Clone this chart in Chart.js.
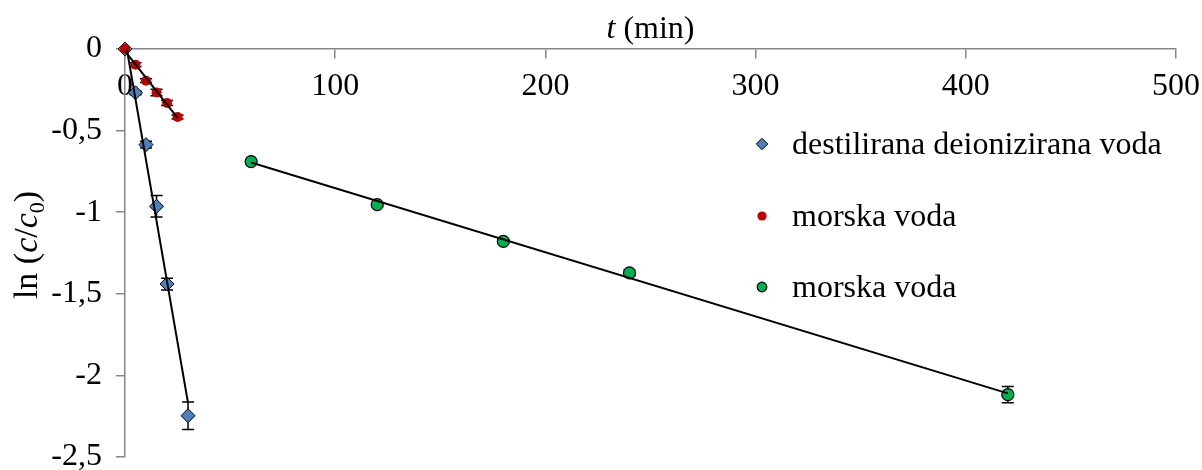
<!DOCTYPE html>
<html>
<head>
<meta charset="utf-8">
<script src="https://cdn.jsdelivr.net/npm/chart.js@4.4.1/dist/chart.umd.min.js"></script>
<style>
html,body{margin:0;padding:0;background:#fff;}
#wrap{width:1202px;height:470px;position:relative;}
</style>
</head>
<body>
<div id="wrap"><canvas id="c" width="1202" height="470"></canvas></div>
<script>
// ---- data ----
const seriesLabels = ['destilirana deionizirana voda', 'morska voda', 'morska voda'];

const tDest  = [0, 5, 10, 15, 20, 30];
const lnDest = [0, -0.268, -0.586, -0.964, -1.44, -2.247];
const errDest = [0.005, 0.012, 0.02, 0.066, 0.036, 0.084];

const tSea1  = [0, 5, 10, 15, 20, 25];
const lnSea1 = [0, -0.096, -0.194, -0.266, -0.331, -0.417];
const errSea1 = [0.005, 0.012, 0.012, 0.02, 0.015, 0.012];

const tSea2  = [60, 120, 180, 240, 420];
const lnSea2 = [-0.69, -0.954, -1.179, -1.372, -2.118];
const errSea2 = [0.012, 0.012, 0.012, 0.018, 0.05];

// trend lines (end points)
const trendDestT = [0, 30];
const trendDestY = [0.064, -2.17];
const trendSea1T = [0, 25];
const trendSea1Y = [-0.013, -0.422];
const trendSea2T = [60, 420];
const trendSea2Y = [-0.695, -2.11];

const xTickValues = [0, 100, 200, 300, 400, 500];
const xTickLabels = ['0', '100', '200', '300', '400', '500'];
const yTickValues = [0, -0.5, -1, -1.5, -2, -2.5];
const yTickLabels = ['0', '-0,5', '-1', '-1,5', '-2', '-2,5'];

// ---- styles ----
const FONT = "'Liberation Serif', 'Times New Roman', serif";
const AXIS_COLOR = '#868686';
const BLUE = '#4F81BD', RED = '#C00000', GREEN = '#00B050';

const pts = (xs, ys) => xs.map((x, i) => ({x: x, y: ys[i]}));

const datasets = [
  {label: 'trend1', data: pts(trendDestT, trendDestY), showLine: true, pointRadius: 0, borderColor: '#000', borderWidth: 2, order: 0, isTrend: true},
  {label: 'trend2', data: pts(trendSea1T, trendSea1Y), showLine: true, pointRadius: 0, borderColor: '#000', borderWidth: 2, order: 0, isTrend: true},
  {label: 'trend3', data: pts(trendSea2T, trendSea2Y), showLine: true, pointRadius: 0, borderColor: '#000', borderWidth: 2, order: 0, isTrend: true},
  {label: seriesLabels[0], data: pts(tDest, lnDest), errors: errDest, pointStyle: 'rectRot', pointRadius: 7, backgroundColor: BLUE, borderColor: '#000', borderWidth: 1, order: 2, legendIdx: 0, clip: false},
  {label: seriesLabels[1], data: pts(tSea1, lnSea1), errors: errSea1, pointStyle: 'circle', pointRadius: 5, backgroundColor: RED, borderColor: RED, borderWidth: 0, order: 1, legendIdx: 1, clip: false},
  {label: seriesLabels[2], data: pts(tSea2, lnSea2), errors: errSea2, pointStyle: 'circle', pointRadius: 6, backgroundColor: GREEN, borderColor: '#000', borderWidth: 1.2, order: 1, legendIdx: 2, clip: false}
];

function drawMarker(ctx, style, x, y, r, fill, stroke, lw) {
  ctx.save();
  ctx.beginPath();
  if (style === 'rectRot') {
    ctx.moveTo(x, y - r); ctx.lineTo(x + r, y); ctx.lineTo(x, y + r); ctx.lineTo(x - r, y); ctx.closePath();
  } else {
    ctx.arc(x, y, r, 0, Math.PI * 2);
  }
  ctx.fillStyle = fill; ctx.fill();
  if (lw > 0) { ctx.lineWidth = lw; ctx.strokeStyle = stroke; ctx.stroke(); }
  ctx.restore();
}

const extras = {
  id: 'extras',
  beforeDatasetsDraw(chart) {
    const ctx = chart.ctx, xs = chart.scales.x, ys = chart.scales.y;
    ctx.save();
    ctx.strokeStyle = '#000';
    ctx.lineWidth = 1.5;
    chart.data.datasets.forEach(ds => {
      if (!ds.errors) return;
      ds.data.forEach((p, i) => {
        const e = ds.errors[i];
        const px = xs.getPixelForValue(p.x);
        const y1 = ys.getPixelForValue(p.y + e), y2 = ys.getPixelForValue(p.y - e);
        ctx.beginPath();
        ctx.moveTo(px, y1); ctx.lineTo(px, y2);
        ctx.moveTo(px - 6, y1); ctx.lineTo(px + 6, y1);
        ctx.moveTo(px - 6, y2); ctx.lineTo(px + 6, y2);
        ctx.stroke();
      });
    });
    ctx.restore();
  },
  afterDraw(chart) {
    const ctx = chart.ctx;
    const area = chart.chartArea;
    ctx.save();
    ctx.fillStyle = '#000';
    ctx.textBaseline = 'alphabetic';
    // x title: "t (min)"
    const it = 'italic 32px ' + FONT, nf = '32px ' + FONT;
    ctx.font = it; const w1 = ctx.measureText('t').width;
    ctx.font = nf; const w2 = ctx.measureText(' (min)').width;
    let x0 = (area.left + area.right) / 2 - (w1 + w2) / 2;
    const by = 38;
    ctx.font = it; ctx.textAlign = 'left'; ctx.fillText('t', x0, by);
    ctx.font = nf; ctx.fillText(' (min)', x0 + w1, by);

    // y title: "ln (c/c0)"
    const yt = '34px ' + FONT, yti = 'italic 34px ' + FONT;
    const sub = '22px ' + FONT;
    const parts = [
      {t: 'ln (', f: yt, dy: 0},
      {t: 'c', f: yti, dy: 0},
      {t: '/', f: yt, dy: 0},
      {t: 'c', f: yti, dy: 0},
      {t: '0', f: sub, dy: 7},
      {t: ')', f: yt, dy: 0}
    ];
    let tw = 0;
    parts.forEach(p => { ctx.font = p.f; p.w = ctx.measureText(p.t).width; tw += p.w; });
    ctx.translate(37, (area.top + area.bottom) / 2 - 8);
    ctx.rotate(-Math.PI / 2);
    let cx = -tw / 2;
    parts.forEach(p => { ctx.font = p.f; ctx.fillText(p.t, cx, p.dy); cx += p.w; });
    ctx.setTransform(1, 0, 0, 1, 0, 0);

    // legend
    const legendRows = [144, 216, 287];
    const mx = 762, tx = 792;
    chart.data.datasets.forEach(ds => {
      if (ds.legendIdx === undefined) return;
      const y = legendRows[ds.legendIdx];
      if (ds.pointStyle === 'rectRot') drawMarker(ctx, 'rectRot', mx, y, 5.7, BLUE, '#000', 1);
      else if (ds.legendIdx === 1) drawMarker(ctx, 'circle', mx, y, 4.6, RED, RED, 0);
      else drawMarker(ctx, 'circle', mx, y, 4.8, GREEN, '#000', 1.2);
      ctx.font = nf; ctx.fillStyle = '#000'; ctx.textAlign = 'left';
      ctx.fillText(ds.label, tx, y + 10);
    });
    ctx.restore();
  }
};

new Chart(document.getElementById('c'), {
  type: 'scatter',
  data: {datasets: datasets},
  options: {
    responsive: false,
    devicePixelRatio: 1,
    animation: false,
    layout: {padding: {left: 0, right: 26, top: 49, bottom: 13}},
    plugins: {legend: {display: false}, tooltip: {enabled: false}},
    scales: {
      x: {
        type: 'linear',
        position: {y: 0},
        min: 0, max: 500,
        afterBuildTicks: s => { s.ticks = xTickValues.map(v => ({value: v})); },
        afterFit: s => { s.paddingLeft = 0; s.paddingRight = 0; },
        ticks: {
          callback: v => xTickLabels[xTickValues.indexOf(v)],
          font: {family: FONT, size: 32}, color: '#000', padding: 9,
          maxRotation: 0, autoSkip: false
        },
        grid: {drawOnChartArea: false, drawTicks: true, tickLength: 9, color: AXIS_COLOR, lineWidth: 1.5},
        border: {display: true, color: AXIS_COLOR, width: 1.5}
      },
      y: {
        type: 'linear',
        position: 'left',
        min: -2.5, max: 0,
        afterBuildTicks: s => { s.ticks = yTickValues.slice().reverse().map(v => ({value: v})); },
        afterFit: s => { s.width = 125; s.paddingTop = 0; s.paddingBottom = 0; },
        ticks: {
          callback: v => yTickLabels[yTickValues.indexOf(v)],
          font: {family: FONT, size: 32}, color: '#000', padding: 14, autoSkip: false
        },
        grid: {drawOnChartArea: false, drawTicks: true, tickLength: 9, color: AXIS_COLOR, lineWidth: 1.5},
        border: {display: true, color: AXIS_COLOR, width: 1.5}
      }
    }
  },
  plugins: [extras]
});
</script>
</body>
</html>
